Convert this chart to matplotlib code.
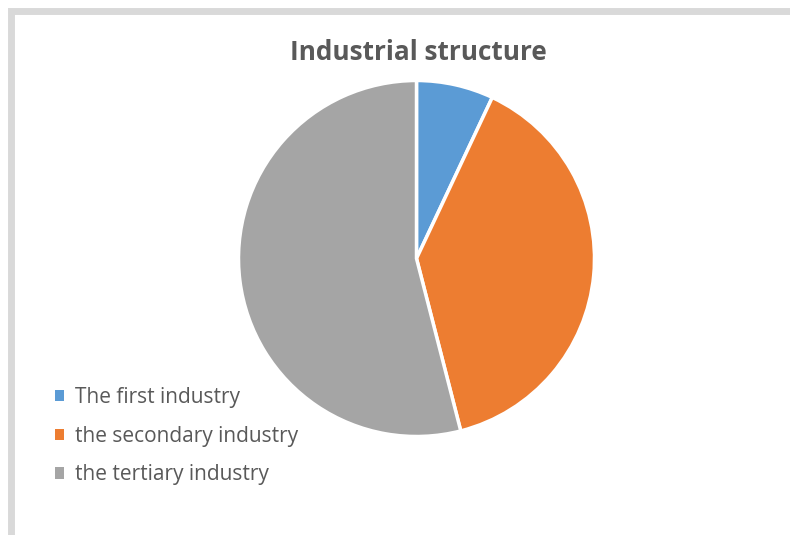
import matplotlib.pyplot as plt
from matplotlib.patches import Rectangle

# share of each industry in the economy (%)
industries = ['The first industry', 'the secondary industry', 'the tertiary industry']
shares = [7.0, 39.0, 54.0]
colors = ['#5B9BD5', '#ED7D31', '#A5A5A5']

W, H = 790, 535
fig = plt.figure(figsize=(W / 100, H / 100), dpi=100)
fig.patch.set_facecolor('white')

# light grey frame round the chart area
fig.patches.append(Rectangle((11 / W, -0.05), 1.1, (H - 11) / H + 0.05,
                             transform=fig.transFigure, fill=False,
                             edgecolor='#D9D9D9', linewidth=5))

# pie centred at (416, 258) px with radius 178 px
cx, cy, r = 416.5, 258.5, 178
ax = fig.add_axes([(cx - r) / W, (H - cy - r) / H, 2 * r / W, 2 * r / H])
wedges, _ = ax.pie(shares, colors=colors, startangle=90, counterclock=False,
                   radius=1, wedgeprops=dict(edgecolor='white', linewidth=2.5))
ax.set_xlim(-1.0, 1.0)
ax.set_ylim(-1.0, 1.0)
ax.axis('off')

fig.text(418 / W, 1 - 52 / H, 'Industrial structure', ha='center', va='center',
         fontsize=18.8, fontweight='bold', color='#595959', family='Open Sans')

leg = fig.legend(wedges, industries, loc='upper left',
                 bbox_to_anchor=(55 / W, 1 - 387 / H), frameon=False,
                 borderpad=0, borderaxespad=0,
                 handlelength=0.45, handleheight=0.45,
                 handletextpad=0.5, labelspacing=0.85, labelcolor='#595959',
                 prop=dict(family='Open Sans', size=15))
for h in leg.legend_handles:
    h.set_edgecolor('none')

fig.savefig('out.png', dpi=100)
